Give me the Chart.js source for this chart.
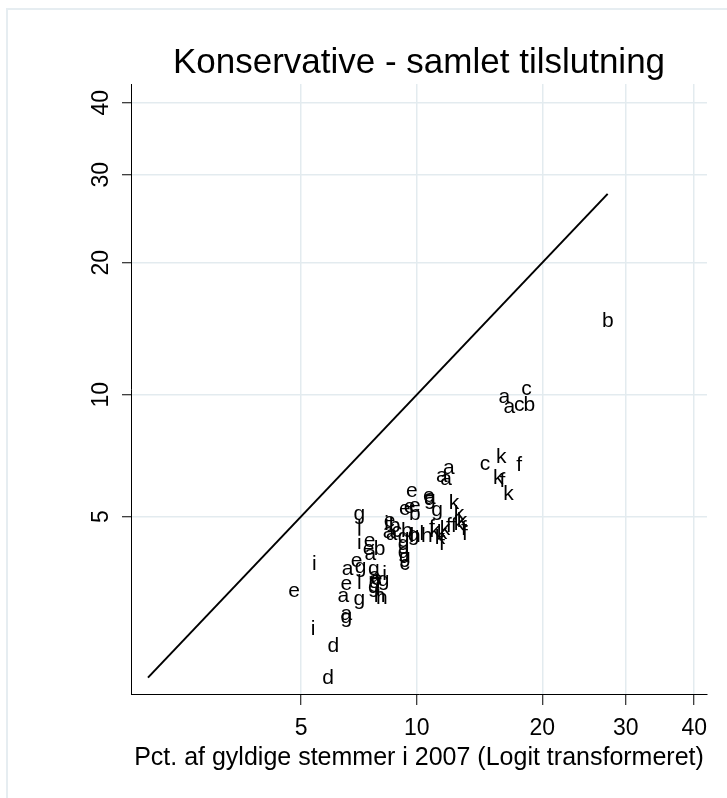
<!DOCTYPE html>
<html><head><meta charset="utf-8">
<script src="https://cdn.jsdelivr.net/npm/chart.js@4/dist/chart.umd.min.js"></script>
<style>html,body{margin:0;padding:0;background:#fff;}canvas{display:block;}</style>
</head><body>
<canvas id="c" width="727" height="798"></canvas>
<script>
// ---- data (percent values) ----
const pointLetters = ['b','a','c','a','c','b','k','f','c','k','f','k','a','a','a','e','e','g','k','e','e','e','b','g','k','k','g','l','i','e','b','i','e','b','a','a','c','b','l','g','h','l','h','f','k','k','k','f','f','k','f','f','k','f','g','g','g','g','c','e','a','i','e','a','g','l','g','a','i','g','g','g','h','h','e','e','a','g','a','g','i','d','d','e','a'];
const xPct = [27.63,16.35,18.41,16.80,17.72,18.70,16.09,17.72,14.73,15.82,16.18,16.72,12.03,11.56,11.83,9.71,10.73,10.79,12.38,9.32,9.59,9.88,9.88,11.24,12.73,12.95,7.12,7.12,7.12,7.57,8.04,8.38,8.53,8.78,8.48,8.63,8.89,9.43,9.71,9.26,9.88,10.30,10.60,10.91,11.10,11.56,11.76,12.03,12.38,12.73,13.10,13.17,11.43,11.56,9.82,9.26,9.26,9.32,9.32,7.53,7.61,5.42,7.00,6.63,7.17,7.12,7.76,7.80,8.28,8.23,7.80,7.76,8.04,8.14,4.79,6.58,6.47,7.12,6.58,6.58,5.38,6.09,5.90,7.89,10.79];
const yPct = [14.98,9.84,10.28,9.31,9.41,9.52,7.10,6.79,6.75,6.31,6.19,5.74,6.60,6.31,6.19,5.78,5.62,5.45,5.45,5.20,5.27,5.30,5.12,5.12,5.12,4.92,5.00,4.72,4.32,4.32,4.17,4.82,4.85,4.77,4.55,4.50,4.58,4.63,4.50,4.37,4.50,4.55,4.50,4.72,4.63,4.58,4.69,4.77,4.77,4.82,4.69,4.55,4.44,4.29,4.42,4.19,4.00,3.88,3.77,4.12,4.00,3.82,3.84,3.66,3.66,3.41,3.62,3.51,3.60,3.39,3.35,3.25,3.16,3.12,3.21,3.35,3.12,3.03,2.80,2.72,2.59,2.34,1.93,3.45,5.55];
const diagonalPct = [1.92, 27.6];
const axisTickPct = [5, 10, 20, 30, 40];
const axisTickLabels = ['5', '10', '20', '30', '40'];
const xRangePct = [1.724, 42.0];
const yRangePct = [1.74, 42.8];
const titleText = 'Konservative - samlet tilslutning';
const xAxisTitle = 'Pct. af gyldige stemmer i 2007 (Logit transformeret)';

// ---- helpers / styling ----
const FAMILY = '"Liberation Sans", Arial, Helvetica, sans-serif';
const logit = p => Math.log((p / 100) / (1 - p / 100));
const GRID = '#e3ebef';
const LETTER_SIZE = 21;

const framePlugin = {
  id: 'frame',
  beforeDraw(chart) {
    const c = chart.ctx;
    c.save();
    c.fillStyle = '#fff';
    c.fillRect(0, 0, chart.width, chart.height);
    c.strokeStyle = '#e6edf1';
    c.lineWidth = 2;
    c.strokeRect(7, 9, chart.width + 20, chart.height + 20);
    c.restore();
  },
  afterDraw(chart) {
    // reference clips the lower part of the axis title
    const c = chart.ctx;
    c.save();
    c.fillStyle = '#fff';
    c.fillRect(110, 771, chart.width, chart.height - 771);
    c.restore();
  }
};

const letterPlugin = {
  id: 'letters',
  afterDatasetsDraw(chart) {
    const meta = chart.getDatasetMeta(0);
    const c = chart.ctx;
    c.save();
    c.font = LETTER_SIZE + 'px ' + FAMILY;
    c.fillStyle = '#000';
    c.textAlign = 'center';
    c.textBaseline = 'alphabetic';
    meta.data.forEach((el, i) => {
      const ch = pointLetters[i];
      const k = /[bdfhiklt]/.test(ch) ? 0.36 : (/[gpqy]/.test(ch) ? 0.16 : 0.26);
      c.fillText(ch, el.x, el.y + k * LETTER_SIZE);
    });
    c.restore();
  }
};

new Chart(document.getElementById('c').getContext('2d'), {
  type: 'scatter',
  data: {
    datasets: [
      {
        label: 'kommuner',
        data: xPct.map((x, i) => ({ x: logit(x), y: logit(yPct[i]) })),
        pointRadius: 0, pointHoverRadius: 0, showLine: false
      },
      {
        label: 'diagonal',
        data: diagonalPct.map(p => ({ x: logit(p), y: logit(p) })),
        showLine: true, borderColor: '#000', borderWidth: 2,
        pointRadius: 0, pointHoverRadius: 0, fill: false
      }
    ]
  },
  options: {
    responsive: false,
    animation: false,
    devicePixelRatio: 1,
    layout: { padding: { top: 0, left: 0, right: 20, bottom: 0 } },
    plugins: {
      legend: { display: false },
      tooltip: { enabled: false },
      title: {
        display: true, text: titleText, fullSize: false, color: '#000',
        font: { family: FAMILY, size: 35, weight: 'normal', lineHeight: 1.2 },
        padding: { top: 42, bottom: 0 }
      }
    },
    scales: {
      x: {
        type: 'linear', position: 'bottom',
        min: logit(xRangePct[0]), max: logit(xRangePct[1]),
        afterBuildTicks: s => { s.ticks = axisTickPct.map(p => ({ value: logit(p) })); },
        afterFit: s => { s.height = 104; },
        ticks: {
          callback: (v, i) => axisTickLabels[i],
          color: '#000', font: { family: FAMILY, size: 23 },
          padding: 10, maxRotation: 0, minRotation: 0, autoSkip: false
        },
        grid: { color: GRID, lineWidth: 1.5, tickColor: '#000', tickLength: 11, tickWidth: 1, drawTicks: true },
        border: { color: '#000', width: 1 },
        title: {
          display: true, text: xAxisTitle, color: '#000',
          font: { family: FAMILY, size: 25 }, padding: { top: 0, bottom: 25 }
        }
      },
      y: {
        type: 'linear', position: 'left',
        min: logit(yRangePct[0]), max: logit(yRangePct[1]),
        afterBuildTicks: s => { s.ticks = axisTickPct.map(p => ({ value: logit(p) })); },
        afterFit: s => { s.width = 131; },
        ticks: {
          callback: (v, i) => axisTickLabels[i],
          color: '#000', font: { family: FAMILY, size: 23 },
          padding: 8, minRotation: 90, maxRotation: 90, crossAlign: 'center', autoSkip: false
        },
        grid: { color: GRID, lineWidth: 1.5, tickColor: '#000', tickLength: 9, tickWidth: 1, drawTicks: true },
        border: { color: '#000', width: 1 }
      }
    }
  },
  plugins: [framePlugin, letterPlugin]
});
</script>
</body></html>
